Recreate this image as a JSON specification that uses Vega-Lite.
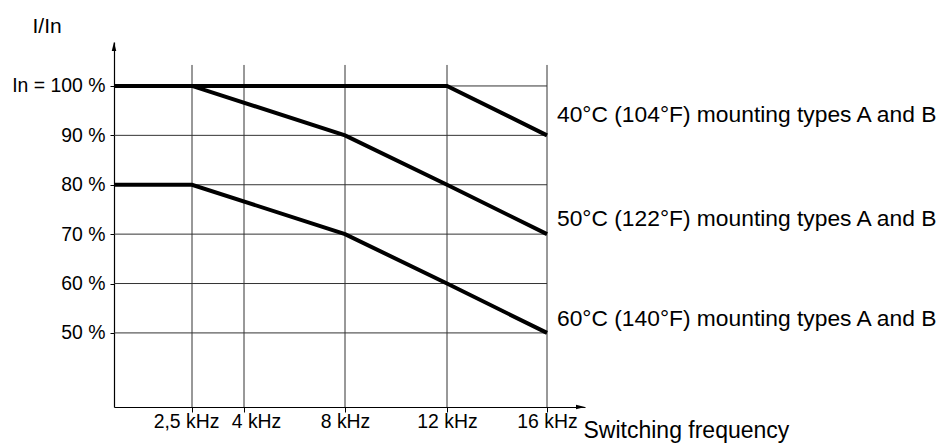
{
  "$schema": "https://vega.github.io/schema/vega-lite/v6.json",
  "width": 471,
  "height": 365,
  "autosize": {"type": "none"},
  "padding": {"left": 114, "top": 42, "right": 355, "bottom": 37},
  "background": "white",
  "config": {
    "font": "Liberation Sans",
    "view": {"stroke": null},
    "text": {"font": "Liberation Sans"}
  },
  "datasets": {
    "curves": [
      {"series": "40", "f": 0, "p": 100},
      {"series": "40", "f": 12, "p": 100},
      {"series": "40", "f": 16, "p": 90},
      {"series": "50", "f": 0, "p": 100},
      {"series": "50", "f": 2.5, "p": 100},
      {"series": "50", "f": 8, "p": 90},
      {"series": "50", "f": 12, "p": 80},
      {"series": "50", "f": 16, "p": 70},
      {"series": "60", "f": 0, "p": 80},
      {"series": "60", "f": 2.5, "p": 80},
      {"series": "60", "f": 8, "p": 70},
      {"series": "60", "f": 12, "p": 60},
      {"series": "60", "f": 16, "p": 50}
    ],
    "vgrid": [{"f": 2.5}, {"f": 4}, {"f": 8}, {"f": 12}, {"f": 16}],
    "hgrid": [{"p": 50}, {"p": 60}, {"p": 70}, {"p": 80}, {"p": 90}, {"p": 100}],
    "labels": [
      {"f": 16, "p": 94.1, "t": "40°C (104°F) mounting types A and B"},
      {"f": 16, "p": 73.1, "t": "50°C (122°F) mounting types A and B"},
      {"f": 16, "p": 52.9, "t": "60°C (140°F) mounting types A and B"}
    ],
    "uparrow": [{"f": 0, "p": 108.9}],
    "rightarrow": [{"f": 17.5, "p": 35}]
  },
  "layer": [
    {
      "data": {"name": "hgrid"},
      "mark": {"type": "rule", "color": "#333", "strokeWidth": 1},
      "encoding": {
        "x": {"datum": 0, "type": "quantitative",
          "scale": {"domain": [0, 2.5, 4, 8, 12, 16, 17.5], "range": [0, 78, 130, 231, 333, 433, 471], "nice": false, "zero": false},
          "axis": {
            "values": [2.5, 4, 8, 12, 16],
            "labelExpr": "replace(datum.value + '', '.', ',') + ' kHz'",
            "title": "Switching frequency",
            "titleFontSize": 23,
            "titleFontWeight": "normal",
            "titleColor": "black",
            "titleX": 469,
            "titleY": 30,
            "titleAlign": "left",
            "titleBaseline": "alphabetic",
            "titleAnchor": "start",
            "labelFontSize": 19.4,
            "labelColor": "black",
            "labelPadding": 0,
            "labelOverlap": false,
            "labelFlush": false,
            "labelOffset": {"condition": [{"test": "datum.value == 2.5", "value": -6}, {"test": "datum.value == 4", "value": 12}], "value": 0},
            "tickColor": "black",
            "tickSize": 5,
            "domainColor": "black",
            "domainWidth": 1.2,
            "grid": false
          }
        },
        "x2": {"datum": 16},
        "y": {"field": "p", "type": "quantitative",
          "scale": {"domain": [35, 108.9], "nice": false, "zero": false},
          "axis": {
            "values": [50, 60, 70, 80, 90, 100],
            "labelExpr": "datum.value == 100 ? 'In = 100 %' : datum.value + ' %'",
            "title": "I/In",
            "titleAngle": 0,
            "titleFontSize": 21,
            "titleFontWeight": "normal",
            "titleColor": "black",
            "titleX": -82,
            "titleY": -10,
            "titleAlign": "left",
            "titleBaseline": "alphabetic",
            "labelFontSize": 19.4,
            "labelColor": "black",
            "labelPadding": 5,
            "labelOverlap": false,
            "labelFlush": false,
            "tickColor": "black",
            "tickSize": 4,
            "domainColor": "black",
            "domainWidth": 1.2,
            "grid": false
          }
        }
      }
    },
    {
      "data": {"name": "vgrid"},
      "mark": {"type": "rule", "color": "#333", "strokeWidth": 1},
      "encoding": {
        "x": {"field": "f", "type": "quantitative"},
        "y": {"datum": 35, "type": "quantitative"},
        "y2": {"datum": 104.25}
      }
    },
    {
      "data": {"name": "curves"},
      "mark": {"type": "line", "color": "black", "strokeWidth": 4, "strokeJoin": "miter"},
      "encoding": {
        "x": {"field": "f", "type": "quantitative"},
        "y": {"field": "p", "type": "quantitative"},
        "detail": {"field": "series"}
      }
    },
    {
      "data": {"name": "labels"},
      "mark": {"type": "text", "align": "left", "baseline": "middle", "dx": 10, "fontSize": 22.8, "color": "black"},
      "encoding": {
        "x": {"field": "f", "type": "quantitative"},
        "y": {"field": "p", "type": "quantitative"},
        "text": {"field": "t"}
      }
    },
    {
      "data": {"name": "uparrow"},
      "mark": {"type": "point", "shape": "M0,0L-0.25,1L0.25,1Z", "size": 324, "filled": true, "color": "black", "opacity": 1},
      "encoding": {
        "x": {"field": "f", "type": "quantitative"},
        "y": {"field": "p", "type": "quantitative"}
      }
    },
    {
      "data": {"name": "rightarrow"},
      "mark": {"type": "point", "shape": "M0,0L-1,-0.25L-1,0.25Z", "size": 324, "filled": true, "color": "black", "opacity": 1},
      "encoding": {
        "x": {"field": "f", "type": "quantitative"},
        "y": {"field": "p", "type": "quantitative"}
      }
    }
  ]
}
